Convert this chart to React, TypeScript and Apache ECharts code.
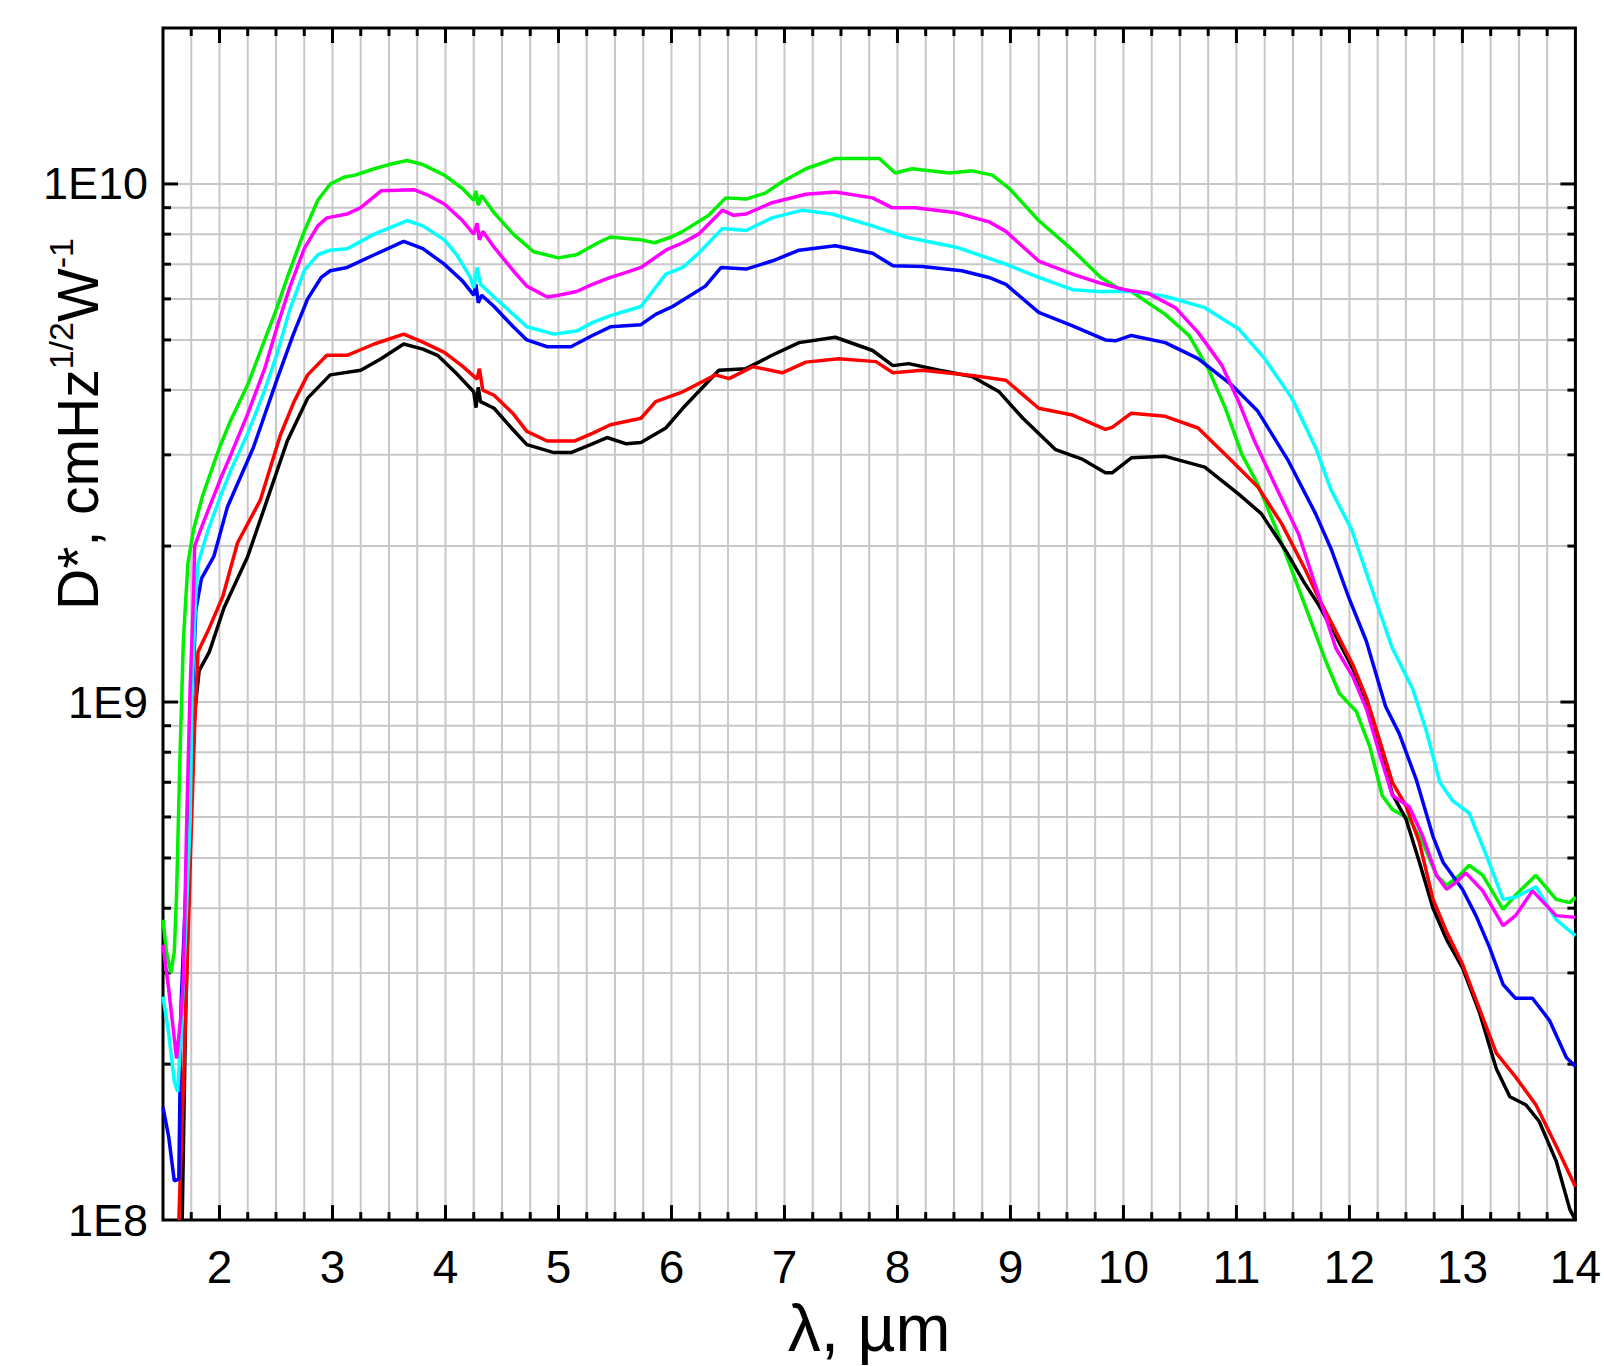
import React, { useEffect, useRef } from "react";
import * as echarts from "echarts";

const FONT = '"Liberation Sans", Arial, Helvetica, sans-serif';
const GRID_COLOR = "#c8c8c8";

const X_MIN = 1.5;
const X_MAX = 14;
const Y_MIN = 1e8;
const Y_MAX = 2e10;

const X_TITLE = "λ, µm";
const Y_TITLE_MAIN = "D*, cmHz";
const Y_TITLE_SUP1 = "1/2";
const Y_TITLE_MID = "W";
const Y_TITLE_SUP2 = "-1";

const xMajorTicks = [2, 3, 4, 5, 6, 7, 8, 9, 10, 11, 12, 13];
const xMinorStep = 0.25;
const yDecades = [1e9, 1e10];
const yMantissas = [2, 3, 4, 5, 6, 7, 8, 9];
const yMinorDecades = [1e8, 1e9];

const greenCurve = [
  [1.5, 3.8e8], [1.53, 3.3e8], [1.57, 3.0e8], [1.6, 3.3e8], [1.62, 4.25e8], [1.65, 7.8e8],
  [1.68, 1.31e9], [1.72, 1.85e9], [1.77, 2.15e9], [1.85, 2.5e9], [2.0, 3.1e9], [2.1, 3.5e9],
  [2.25, 4.1e9], [2.4, 5.0e9], [2.5, 5.7e9], [2.6, 6.6e9], [2.75, 8.1e9], [2.87, 9.3e9],
  [2.98, 1.0e10], [3.1, 1.03e10], [3.2, 1.04e10], [3.37, 1.07e10], [3.5, 1.09e10], [3.66, 1.11e10],
  [3.8, 1.09e10], [3.99, 1.04e10], [4.15, 9.8e9], [4.25, 9.3e9], [4.27, 9.7e9], [4.29, 9.1e9],
  [4.32, 9.5e9], [4.43, 8.8e9], [4.6, 8.0e9], [4.78, 7.4e9], [5.0, 7.2e9], [5.16, 7.3e9],
  [5.35, 7.7e9], [5.46, 7.9e9], [5.6, 7.85e9], [5.73, 7.8e9], [5.85, 7.7e9], [6.0, 7.9e9],
  [6.1, 8.1e9], [6.33, 8.7e9], [6.48, 9.4e9], [6.66, 9.35e9], [6.83, 9.6e9], [6.98, 1.01e10],
  [7.19, 1.07e10], [7.45, 1.12e10], [7.84, 1.12e10], [7.98, 1.05e10], [8.13, 1.07e10], [8.46, 1.05e10],
  [8.66, 1.06e10], [8.84, 1.04e10], [8.99, 9.8e9], [9.25, 8.5e9], [9.55, 7.45e9], [9.8, 6.6e9],
  [9.95, 6.3e9], [10.07, 6.2e9], [10.37, 5.6e9], [10.58, 5.1e9], [10.75, 4.4e9], [10.9, 3.7e9],
  [11.05, 3.0e9], [11.19, 2.63e9], [11.37, 2.11e9], [11.6, 1.55e9], [11.79, 1.2e9], [11.91, 1.04e9],
  [12.06, 9.6e8], [12.18, 8.2e8], [12.29, 6.6e8], [12.38, 6.2e8], [12.53, 5.95e8], [12.65, 5.35e8],
  [12.77, 4.63e8], [12.86, 4.43e8], [12.96, 4.6e8], [13.06, 4.84e8], [13.18, 4.63e8], [13.36, 3.98e8],
  [13.47, 4.24e8], [13.65, 4.63e8], [13.83, 4.16e8], [13.95, 4.1e8], [14.0, 4.2e8],
];

const magentaCurve = [
  [1.5, 3.4e8], [1.55, 2.8e8], [1.62, 2.05e8], [1.66, 2.5e8], [1.68, 2.9e8], [1.71, 5.9e8],
  [1.74, 1.06e9], [1.77, 1.6e9], [1.78, 2.0e9], [1.85, 2.2e9], [2.01, 2.7e9], [2.1, 3.0e9],
  [2.25, 3.6e9], [2.4, 4.4e9], [2.51, 5.3e9], [2.62, 6.3e9], [2.75, 7.5e9], [2.87, 8.3e9],
  [2.95, 8.6e9], [3.13, 8.75e9], [3.25, 9.0e9], [3.43, 9.7e9], [3.72, 9.75e9], [3.85, 9.5e9],
  [3.99, 9.15e9], [4.15, 8.5e9], [4.25, 8.0e9], [4.28, 8.4e9], [4.3, 7.8e9], [4.33, 8.1e9],
  [4.43, 7.55e9], [4.6, 6.8e9], [4.72, 6.35e9], [4.9, 6.05e9], [5.0, 6.1e9], [5.16, 6.2e9],
  [5.3, 6.4e9], [5.46, 6.6e9], [5.6, 6.75e9], [5.73, 6.9e9], [5.95, 7.45e9], [6.1, 7.7e9],
  [6.24, 8.0e9], [6.45, 8.9e9], [6.55, 8.7e9], [6.66, 8.75e9], [6.89, 9.2e9], [7.19, 9.55e9],
  [7.45, 9.65e9], [7.78, 9.4e9], [7.95, 9.0e9], [8.16, 9.0e9], [8.52, 8.8e9], [8.81, 8.45e9],
  [8.96, 8.1e9], [9.1, 7.6e9], [9.25, 7.1e9], [9.55, 6.7e9], [9.78, 6.45e9], [10.01, 6.25e9],
  [10.22, 6.15e9], [10.46, 5.77e9], [10.66, 5.17e9], [10.87, 4.47e9], [11.02, 3.8e9], [11.16, 3.19e9],
  [11.34, 2.63e9], [11.55, 2.11e9], [11.73, 1.6e9], [11.88, 1.27e9], [12.03, 1.12e9], [12.15, 9.7e8],
  [12.27, 7.9e8], [12.38, 6.6e8], [12.53, 6.28e8], [12.65, 5.5e8], [12.77, 4.63e8], [12.86, 4.35e8],
  [12.95, 4.5e8], [13.03, 4.68e8], [13.18, 4.32e8], [13.36, 3.7e8], [13.47, 3.87e8], [13.62, 4.32e8],
  [13.83, 3.87e8], [14.0, 3.84e8],
];

const cyanCurve = [
  [1.5, 2.7e8], [1.55, 2.3e8], [1.6, 1.85e8], [1.63, 1.77e8], [1.66, 2.3e8], [1.69, 3.2e8],
  [1.74, 5.9e8], [1.76, 1.1e9], [1.79, 1.6e9], [1.81, 1.85e9], [1.9, 2.15e9], [2.01, 2.5e9],
  [2.1, 2.8e9], [2.25, 3.3e9], [2.4, 4.0e9], [2.51, 4.7e9], [2.62, 5.7e9], [2.75, 6.8e9],
  [2.87, 7.3e9], [2.98, 7.45e9], [3.13, 7.5e9], [3.37, 8.0e9], [3.66, 8.5e9], [3.8, 8.3e9],
  [3.99, 7.8e9], [4.1, 7.3e9], [4.22, 6.6e9], [4.25, 6.3e9], [4.28, 6.9e9], [4.31, 6.4e9],
  [4.43, 6.05e9], [4.6, 5.6e9], [4.72, 5.3e9], [4.96, 5.13e9], [5.16, 5.2e9], [5.3, 5.4e9],
  [5.46, 5.57e9], [5.73, 5.8e9], [5.95, 6.7e9], [6.1, 6.9e9], [6.24, 7.35e9], [6.45, 8.2e9],
  [6.66, 8.13e9], [6.89, 8.6e9], [7.16, 8.9e9], [7.42, 8.75e9], [7.78, 8.3e9], [8.07, 7.9e9],
  [8.52, 7.55e9], [8.96, 7.0e9], [9.25, 6.6e9], [9.55, 6.25e9], [9.78, 6.2e9], [10.07, 6.2e9],
  [10.37, 6.07e9], [10.72, 5.77e9], [11.02, 5.25e9], [11.25, 4.6e9], [11.49, 3.86e9], [11.7, 3.1e9],
  [11.84, 2.56e9], [12.02, 2.15e9], [12.22, 1.6e9], [12.38, 1.27e9], [12.56, 1.06e9], [12.68, 8.8e8],
  [12.8, 7.0e8], [12.91, 6.46e8], [13.06, 6.1e8], [13.21, 5.07e8], [13.36, 4.16e8], [13.47, 4.2e8],
  [13.65, 4.4e8], [13.83, 3.8e8], [14.0, 3.54e8],
];

const blueCurve = [
  [1.5, 1.65e8], [1.55, 1.45e8], [1.6, 1.19e8], [1.64, 1.2e8], [1.66, 2.6e8], [1.71, 4.8e8],
  [1.75, 9.0e8], [1.79, 1.5e9], [1.84, 1.73e9], [1.95, 1.91e9], [2.07, 2.38e9], [2.3, 3.1e9],
  [2.51, 4.2e9], [2.65, 5.1e9], [2.78, 6.0e9], [2.9, 6.6e9], [2.98, 6.8e9], [3.13, 6.9e9],
  [3.37, 7.3e9], [3.63, 7.75e9], [3.8, 7.5e9], [3.99, 7.0e9], [4.15, 6.5e9], [4.25, 6.1e9],
  [4.27, 6.4e9], [4.29, 5.9e9], [4.32, 6.1e9], [4.43, 5.8e9], [4.6, 5.3e9], [4.72, 5.0e9],
  [4.9, 4.85e9], [5.11, 4.85e9], [5.3, 5.1e9], [5.46, 5.3e9], [5.73, 5.35e9], [5.86, 5.6e9],
  [6.01, 5.8e9], [6.3, 6.35e9], [6.44, 6.9e9], [6.66, 6.85e9], [6.89, 7.1e9], [7.13, 7.45e9],
  [7.45, 7.6e9], [7.78, 7.35e9], [7.96, 6.95e9], [8.22, 6.93e9], [8.57, 6.8e9], [8.81, 6.6e9],
  [8.96, 6.4e9], [9.25, 5.65e9], [9.55, 5.32e9], [9.84, 5.0e9], [9.93, 4.98e9], [10.07, 5.1e9],
  [10.37, 4.94e9], [10.66, 4.6e9], [10.96, 4.09e9], [11.19, 3.64e9], [11.46, 2.92e9], [11.7, 2.31e9],
  [11.84, 1.97e9], [11.99, 1.6e9], [12.15, 1.31e9], [12.32, 9.8e8], [12.44, 8.7e8], [12.59, 7.1e8],
  [12.74, 5.5e8], [12.83, 4.9e8], [13.0, 4.35e8], [13.12, 3.87e8], [13.24, 3.36e8], [13.36, 2.85e8],
  [13.47, 2.68e8], [13.62, 2.68e8], [13.77, 2.43e8], [13.92, 2.06e8], [14.0, 1.98e8],
];

const redCurve = [
  [1.64, 1.0e8], [1.69, 2.1e8], [1.74, 4.8e8], [1.78, 9.0e8], [1.81, 1.25e9], [1.91, 1.39e9],
  [2.03, 1.6e9], [2.16, 2.03e9], [2.36, 2.45e9], [2.54, 3.28e9], [2.66, 3.8e9], [2.78, 4.28e9],
  [2.95, 4.67e9], [3.13, 4.67e9], [3.37, 4.91e9], [3.63, 5.13e9], [3.8, 4.95e9], [3.99, 4.73e9],
  [4.15, 4.45e9], [4.28, 4.2e9], [4.3, 4.4e9], [4.33, 4.0e9], [4.43, 3.91e9], [4.6, 3.6e9],
  [4.72, 3.33e9], [4.9, 3.19e9], [5.14, 3.19e9], [5.3, 3.3e9], [5.46, 3.43e9], [5.73, 3.53e9],
  [5.86, 3.8e9], [6.1, 3.97e9], [6.39, 4.28e9], [6.51, 4.21e9], [6.72, 4.44e9], [6.98, 4.32e9],
  [7.19, 4.53e9], [7.48, 4.6e9], [7.81, 4.54e9], [7.96, 4.32e9], [8.22, 4.37e9], [8.66, 4.27e9],
  [8.96, 4.18e9], [9.25, 3.69e9], [9.55, 3.58e9], [9.84, 3.36e9], [9.9, 3.39e9], [10.07, 3.61e9],
  [10.37, 3.56e9], [10.66, 3.38e9], [10.96, 2.92e9], [11.19, 2.6e9], [11.4, 2.21e9], [11.61, 1.8e9],
  [11.72, 1.6e9], [11.85, 1.41e9], [12.03, 1.18e9], [12.15, 1.02e9], [12.27, 8.4e8], [12.38, 7.0e8],
  [12.5, 6.3e8], [12.62, 5.35e8], [12.74, 4.16e8], [12.86, 3.6e8], [13.0, 3.12e8], [13.15, 2.56e8],
  [13.3, 2.1e8], [13.47, 1.89e8], [13.65, 1.67e8], [13.83, 1.39e8], [14.0, 1.16e8],
];

const blackCurve = [
  [1.67, 1.0e8], [1.7, 2.5e8], [1.74, 5.5e8], [1.78, 9.5e8], [1.82, 1.15e9], [1.91, 1.25e9],
  [2.04, 1.52e9], [2.25, 1.91e9], [2.42, 2.45e9], [2.6, 3.19e9], [2.78, 3.86e9], [2.98, 4.28e9],
  [3.25, 4.37e9], [3.43, 4.6e9], [3.63, 4.91e9], [3.8, 4.8e9], [3.93, 4.67e9], [4.1, 4.3e9],
  [4.25, 3.97e9], [4.27, 3.7e9], [4.29, 4.05e9], [4.31, 3.8e9], [4.43, 3.69e9], [4.6, 3.35e9],
  [4.72, 3.14e9], [4.96, 3.03e9], [5.11, 3.03e9], [5.3, 3.15e9], [5.43, 3.24e9], [5.6, 3.15e9],
  [5.73, 3.17e9], [5.95, 3.38e9], [6.1, 3.69e9], [6.42, 4.37e9], [6.66, 4.4e9], [6.89, 4.67e9],
  [7.13, 4.94e9], [7.45, 5.06e9], [7.78, 4.77e9], [7.96, 4.46e9], [8.1, 4.5e9], [8.37, 4.37e9],
  [8.66, 4.25e9], [8.9, 3.97e9], [9.11, 3.53e9], [9.4, 3.07e9], [9.64, 2.94e9], [9.84, 2.77e9],
  [9.9, 2.77e9], [10.07, 2.96e9], [10.37, 2.98e9], [10.72, 2.84e9], [11.02, 2.52e9], [11.22, 2.31e9],
  [11.43, 1.97e9], [11.6, 1.7e9], [11.72, 1.55e9], [11.85, 1.38e9], [12.03, 1.16e9], [12.15, 1.0e9],
  [12.27, 8.2e8], [12.38, 6.64e8], [12.5, 5.95e8], [12.62, 4.9e8], [12.74, 4.0e8], [12.86, 3.48e8],
  [13.0, 3.07e8], [13.15, 2.52e8], [13.3, 1.96e8], [13.42, 1.73e8], [13.56, 1.67e8], [13.68, 1.55e8],
  [13.83, 1.3e8], [13.95, 1.05e8], [14.0, 1.0e8],
];

const curves = [
  { name: "green", color: "#00f000", data: greenCurve },
  { name: "black", color: "#000000", data: blackCurve },
  { name: "red", color: "#ff0000", data: redCurve },
  { name: "blue", color: "#0000ff", data: blueCurve },
  { name: "cyan", color: "#00ffff", data: cyanCurve },
  { name: "magenta", color: "#ff00ff", data: magentaCurve },
];

function buildXGrid() {
  const out: number[][] = [];
  for (let v = X_MIN + xMinorStep; v < X_MAX - 1e-9; v += xMinorStep) {
    const r = Math.round(v * 100) / 100;
    const major = xMajorTicks.some((m) => Math.abs(m - r) < 1e-9) ? 1 : 0;
    out.push([r, Y_MIN, major]);
  }
  return out;
}

function buildYGrid() {
  const out: number[][] = [];
  yMinorDecades.forEach((d) => yMantissas.forEach((m) => out.push([X_MIN, m * d, 0])));
  yDecades.forEach((d) => out.push([X_MIN, d, 1]));
  return out;
}

function decadeLabel(v: number) {
  const e = Math.round(Math.log10(v));
  return Math.abs(v / Math.pow(10, e) - 1) < 1e-6 ? "1E" + e : "";
}

export default function App() {
  const ref = useRef<HTMLDivElement>(null);

  useEffect(() => {
    if (!ref.current) return;
    const chart = echarts.init(ref.current, null, { renderer: "svg" });
    const MAJOR = 15;
    const MINOR = 8;

    const option: any = {
      animation: false,
      backgroundColor: "#ffffff",
      grid: {
        left: 163,
        top: 28,
        right: 28,
        bottom: 130,
        show: true,
        borderColor: "#000",
        borderWidth: 3,
        backgroundColor: "transparent",
      },
      xAxis: {
        type: "value",
        min: X_MIN,
        max: X_MAX,
        interval: 0.25,
        axisLine: { show: false },
        axisTick: { show: false },
        splitLine: { show: false },
        axisLabel: {
          formatter: (v: number) => (Math.abs(v - Math.round(v)) < 1e-6 ? String(Math.round(v)) : ""),
          fontSize: 46,
          fontFamily: FONT,
          color: "#000",
          margin: 24,
        },
        name: X_TITLE,
        nameLocation: "middle",
        nameGap: 56,
        nameTextStyle: { fontSize: 66, fontFamily: FONT, color: "#000" },
      },
      yAxis: {
        type: "log",
        logBase: 10,
        min: Y_MIN,
        max: Y_MAX,
        axisLine: { show: false },
        axisTick: { show: false },
        splitLine: { show: false },
        minorTick: { show: false },
        axisLabel: {
          formatter: decadeLabel,
          fontSize: 45,
          fontFamily: FONT,
          color: "#000",
          margin: 15,
        },
      },
      graphic: [
        {
          type: "text",
          x: 78,
          y: 424,
          rotation: Math.PI / 2,
          silent: true,
          style: {
            text: `{a|${Y_TITLE_MAIN}}{s|${Y_TITLE_SUP1}}{a|${Y_TITLE_MID}}{s|${Y_TITLE_SUP2}}`,
            align: "center",
            verticalAlign: "middle",
            fill: "#000",
            rich: {
              a: { fontSize: 57, fontFamily: FONT, lineHeight: 68, verticalAlign: "middle", fill: "#000" },
              s: { fontSize: 34, fontFamily: FONT, lineHeight: 34, verticalAlign: "top", fill: "#000" },
            },
          },
        },
      ],
      series: [
        {
          type: "custom",
          z: 1,
          silent: true,
          data: buildXGrid(),
          renderItem: (params: any, api: any) => {
            const cs = params.coordSys;
            const x = api.coord([api.value(0), Y_MIN])[0];
            const len = api.value(2) === 1 ? MAJOR : MINOR;
            const top = cs.y;
            const bottom = cs.y + cs.height;
            return {
              type: "group",
              children: [
                { type: "line", shape: { x1: x, y1: top + 1.5, x2: x, y2: bottom - 1.5 }, style: { stroke: GRID_COLOR, lineWidth: 2 } },
                { type: "line", shape: { x1: x, y1: bottom, x2: x, y2: bottom - len }, style: { stroke: "#000", lineWidth: 3 } },
                { type: "line", shape: { x1: x, y1: top, x2: x, y2: top + len }, style: { stroke: "#000", lineWidth: 3 } },
              ],
            };
          },
        },
        {
          type: "custom",
          z: 1,
          silent: true,
          data: buildYGrid(),
          renderItem: (params: any, api: any) => {
            const cs = params.coordSys;
            const y = api.coord([X_MIN, api.value(1)])[1];
            const len = api.value(2) === 1 ? MAJOR : MINOR;
            const left = cs.x;
            const right = cs.x + cs.width;
            return {
              type: "group",
              children: [
                { type: "line", shape: { x1: left + 1.5, y1: y, x2: right - 1.5, y2: y }, style: { stroke: GRID_COLOR, lineWidth: 2 } },
                { type: "line", shape: { x1: left, y1: y, x2: left + len, y2: y }, style: { stroke: "#000", lineWidth: 3 } },
                { type: "line", shape: { x1: right, y1: y, x2: right - len, y2: y }, style: { stroke: "#000", lineWidth: 3 } },
              ],
            };
          },
        },
        ...curves.map((c, i) => ({
          type: "line",
          name: c.name,
          data: c.data,
          symbol: "none",
          showSymbol: false,
          z: 3 + i,
          lineStyle: { color: c.color, width: 3.5 },
          itemStyle: { color: c.color },
        })),
      ],
    };

    chart.setOption(option);
    return () => chart.dispose();
  }, []);

  return (
    <div
      ref={ref}
      style={{ position: "fixed", left: 0, top: 0, width: 1604, height: 1366, background: "#fff" }}
    />
  );
}
